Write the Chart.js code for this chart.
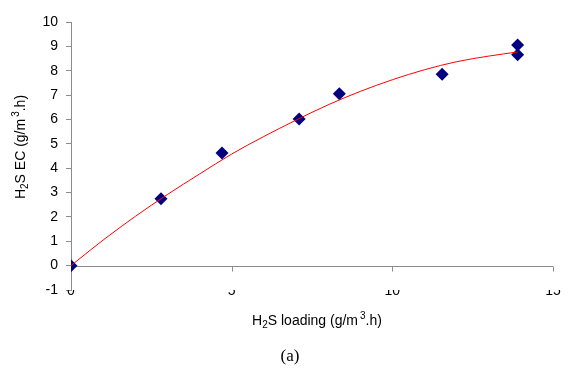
<!DOCTYPE html>
<html>
<head>
<meta charset="utf-8">
<script src="https://cdn.jsdelivr.net/npm/chart.js@4/dist/chart.umd.min.js"></script>
<style>
  html, body { margin: 0; padding: 0; background: #fff; }
  #wrap { width: 575px; height: 370px; }
</style>
</head>
<body>
<div id="wrap"><canvas id="myChart"></canvas></div>
<script>
// measured points
const loading = [0, 2.8, 4.7, 7.1, 8.35, 11.55, 13.9, 13.9];
const ec = [0, 2.75, 4.62, 6.02, 7.06, 7.86, 9.06, 8.66];

// fitted curve
const fitX = [0, 1, 2, 3, 4, 5, 6, 7, 8, 9, 10, 11, 12, 13, 13.9];
const fitY = [0, 1.05, 2.02, 2.92, 3.76, 4.58, 5.3, 5.97, 6.6, 7.15, 7.63, 8.04, 8.37, 8.6, 8.77];

const axisColor = '#8c8c8c';
const sans = 'Liberation Sans, Arial, sans-serif';

// draws text with sub/superscript pieces, centered on (0,0)
function richText(ctx, parts, size) {
    const small = Math.round(size * 0.7);
    let total = 0;
    parts.forEach(p => {
        ctx.font = (p.sub || p.sup ? small : size) + 'px ' + sans;
        p.w = ctx.measureText(p.t).width + (p.gap || 0);
        total += p.w;
    });
    let x = -total / 2;
    ctx.textBaseline = 'middle';
    ctx.textAlign = 'left';
    parts.forEach(p => {
        ctx.font = (p.sub || p.sup ? small : size) + 'px ' + sans;
        let dy = 0;
        if (p.sub) dy = size * 0.3;
        if (p.sup) dy = -size * 0.35;
        ctx.fillText(p.t, x + (p.gap || 0), dy);
        x += p.w;
    });
}

// x axis line crosses at y = 0, labels stay at the bottom
const zeroAxis = {
    id: 'zeroAxis',
    beforeDatasetsDraw(chart) {
        const {ctx, chartArea, scales} = chart;
        const y0 = Math.round(scales.y.getPixelForValue(0)) + 0.5;
        ctx.save();
        ctx.strokeStyle = axisColor;
        ctx.lineWidth = 1;
        ctx.beginPath();
        ctx.moveTo(chartArea.left, y0);
        ctx.lineTo(chartArea.right, y0);
        scales.x.ticks.forEach(t => {
            const px = Math.round(scales.x.getPixelForValue(t.value)) + 0.5;
            ctx.moveTo(px, y0);
            ctx.lineTo(px, y0 + 5);
        });
        ctx.stroke();
        ctx.restore();
    }
};

const titlePlugin = {
    id: 'titles',
    afterDraw(chart) {
        const ctx = chart.ctx;
        ctx.save();
        ctx.fillStyle = '#000';
        // y title
        ctx.save();
        ctx.translate(21, 147);
        ctx.rotate(-Math.PI / 2);
        richText(ctx, [{t: 'H'}, {t: '2', sub: true}, {t: 'S EC (g/m'}, {t: '3', sup: true, gap: 2}, {t: '.h)'}], 14);
        ctx.restore();
        // x title
        ctx.save();
        ctx.translate(317, 321);
        richText(ctx, [{t: 'H'}, {t: '2', sub: true}, {t: 'S loading (g/m'}, {t: '3', sup: true, gap: 2}, {t: '.h)'}], 14);
        ctx.restore();
        // caption
        ctx.font = '17px Liberation Serif, Times New Roman, serif';
        ctx.textAlign = 'center';
        ctx.textBaseline = 'middle';
        ctx.fillText('(a)', 290, 357);
        ctx.restore();
    }
};

const ctx = document.getElementById('myChart').getContext('2d');
const myChart = new Chart(ctx, {
    type: 'scatter',
    data: {
        datasets: [{
            label: 'fit',
            type: 'line',
            data: fitX.map((x, i) => ({x: x, y: fitY[i]})),
            borderColor: '#ff0000',
            borderWidth: 1,
            pointRadius: 0,
            cubicInterpolationMode: 'monotone',
            fill: false
        }, {
            label: 'data',
            data: loading.map((x, i) => ({x: x, y: ec[i]})),
            backgroundColor: '#000080',
            borderColor: '#000080',
            borderWidth: 0,
            pointStyle: 'rectRot',
            pointRadius: 6.5
        }]
    },
    options: {
        responsive: true,
        maintainAspectRatio: false,
        animation: false,
        layout: { padding: { top: 22, right: 22, bottom: 0, left: 0 } },
        plugins: {
            legend: { display: false },
            tooltip: { enabled: false }
        },
        scales: {
            x: {
                type: 'linear',
                position: 'bottom',
                min: 0,
                max: 15,
                ticks: { stepSize: 5, padding: -7, color: '#000', font: { family: sans, size: 14 } },
                grid: { display: false, drawTicks: false },
                border: { display: false },
                afterFit: scale => { scale.height = 80; }
            },
            y: {
                min: -1,
                max: 10,
                ticks: { stepSize: 1, padding: 8, color: '#000', font: { family: sans, size: 14 } },
                grid: { drawOnChartArea: false, tickLength: 5, color: axisColor },
                border: { color: axisColor, width: 1 },
                afterFit: scale => { scale.width = 71; }
            }
        }
    },
    plugins: [zeroAxis, titlePlugin]
});
</script>
</body>
</html>
